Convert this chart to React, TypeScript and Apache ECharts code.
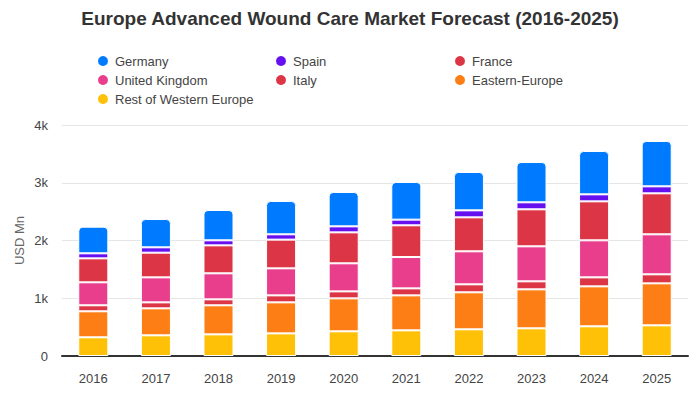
import React, { useEffect, useRef } from "react";
import * as echarts from "echarts";

const years = ["2016", "2017", "2018", "2019", "2020", "2021", "2022", "2023", "2024", "2025"];
const restOfWesternEurope = [324, 358, 375, 392, 427, 444, 462, 479, 514, 531];
const easternEurope = [450, 467, 503, 537, 571, 606, 641, 675, 692, 727];
const italy = [104, 104, 103, 121, 121, 121, 138, 139, 156, 156];
const unitedKingdom = [398, 433, 451, 468, 486, 543, 572, 606, 641, 693];
const france = [415, 427, 484, 497, 536, 549, 588, 641, 675, 710];
const spain = [87, 93, 87, 92, 104, 98, 121, 121, 121, 121];
const germany = [461, 490, 525, 577, 595, 652, 664, 698, 751, 785];
const yTicks = ["0", "1k", "2k", "3k", "4k"];

const FONT = "'Liberation Sans', Arial, Helvetica, sans-serif";

export default function App() {
  const ref = useRef<HTMLDivElement>(null);
  useEffect(() => {
    if (!ref.current) return;
    const chart = echarts.init(ref.current, undefined, { renderer: "svg" });
    const stackSeries = [
      { name: "Rest of Western Europe", data: restOfWesternEurope, color: "#ffc107" },
      { name: "Eastern-Europe", data: easternEurope, color: "#fd7e14" },
      { name: "Italy", data: italy, color: "#dc3545" },
      { name: "United Kingdom", data: unitedKingdom, color: "#e83e8c" },
      { name: "France", data: france, color: "#dc3545" },
      { name: "Spain", data: spain, color: "#6610f2" },
      { name: "Germany", data: germany, color: "#007bff" },
    ];
    const legendBase = {
      orient: "vertical" as const,
      icon: "circle",
      itemWidth: 14,
      itemHeight: 12,
      itemGap: 5,
      top: 41,
      textStyle: { fontFamily: FONT, fontSize: 13, color: "#444" },
    };
    chart.setOption({
      animation: false,
      textStyle: { fontFamily: FONT },
      title: {
        text: "Europe Advanced Wound Care Market Forecast (2016-2025)",
        left: "center",
        top: -4,
        textStyle: { fontFamily: FONT, fontSize: 19, fontWeight: "bold", color: "#333" },
      },
      legend: [
        { ...legendBase, left: 83, data: ["Germany", "United Kingdom", "Rest of Western Europe"] },
        { ...legendBase, left: 261, data: ["Spain", "Italy"] },
        { ...legendBase, left: 440, data: ["France", "Eastern-Europe"] },
      ],
      grid: { left: 54, right: 4, top: 117, bottom: 36, outerBoundsMode: "none", containLabel: false },
      xAxis: {
        type: "category",
        data: years,
        axisLine: { lineStyle: { color: "#333", width: 2 } },
        axisTick: { show: false },
        axisLabel: { color: "#444", fontSize: 13, margin: 16, fontFamily: FONT },
      },
      yAxis: {
        type: "value",
        min: 0,
        max: 4000,
        interval: 1000,
        name: "USD Mn",
        nameLocation: "middle",
        nameGap: 36,
        nameMoveOverlap: false,
        nameTextStyle: { color: "#666", fontSize: 13, fontFamily: FONT },
        axisLine: { show: false },
        axisTick: { show: false },
        axisLabel: {
          color: "#444",
          fontSize: 13,
          margin: 14,
          fontFamily: FONT,
          formatter: (v: number) => yTicks[Math.round(v / 1000)] ?? String(v),
        },
        splitLine: { lineStyle: { color: "#e6e6e6" } },
      },
      series: stackSeries.map((s, i) => ({
        type: "bar",
        name: s.name,
        stack: "total",
        data: s.data,
        barWidth: "48%",
        itemStyle: {
          color: s.color,
          borderColor: "#fff",
          borderWidth: 1,
          borderRadius: i === stackSeries.length - 1 ? [4, 4, 0, 0] : 0,
        },
      })),
    });
    return () => chart.dispose();
  }, []);
  return <div ref={ref} style={{ width: 684, height: 384 }} />;
}
